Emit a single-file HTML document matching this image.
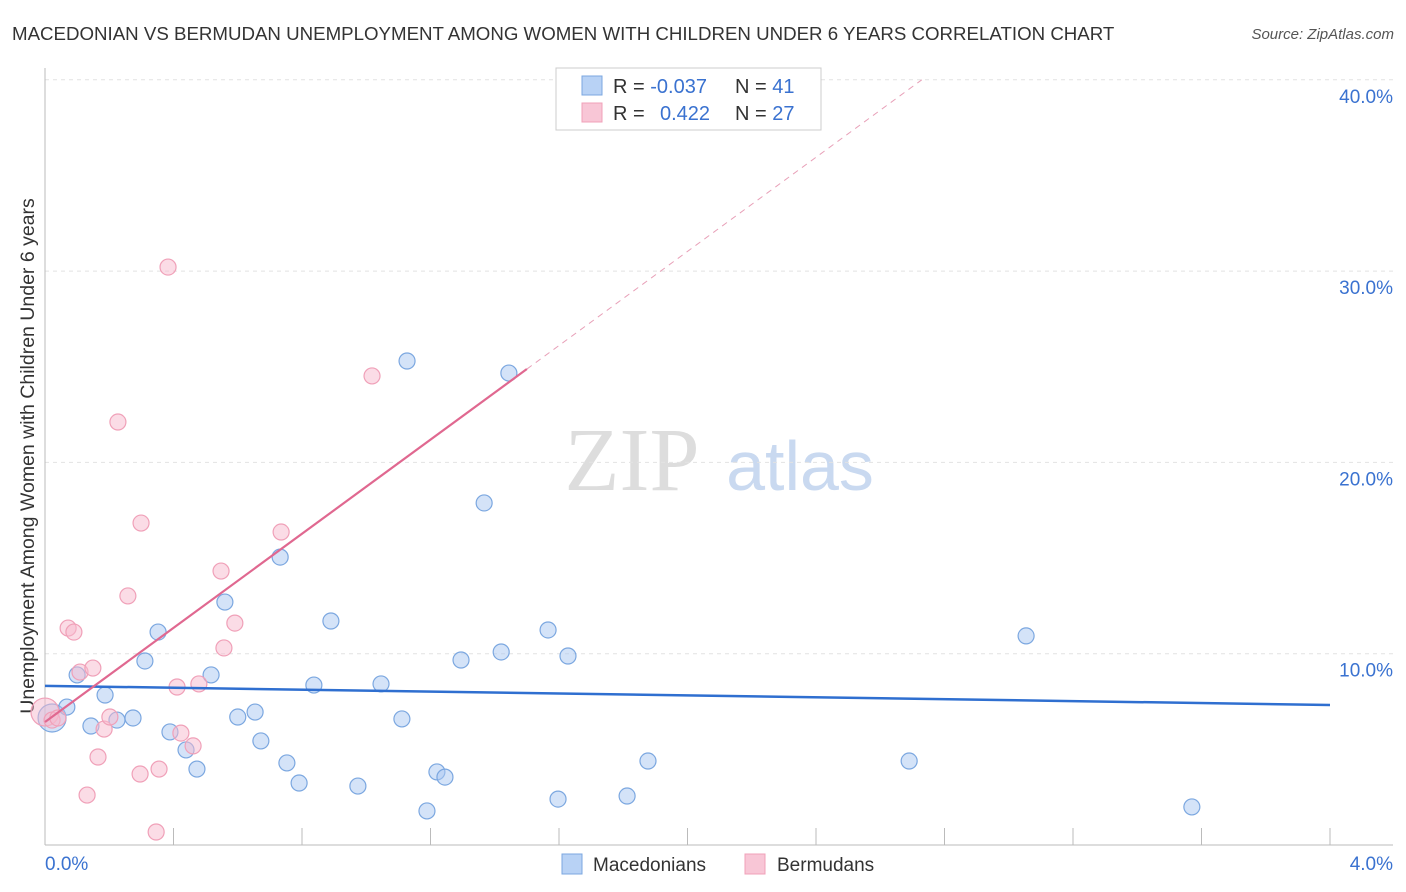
<!DOCTYPE html>
<html><head><meta charset="utf-8"><style>
body{margin:0;background:#fff;font-family:"Liberation Sans",sans-serif;}
svg{display:block}
</style></head><body>
<svg id="chart" width="1406" height="892">
<text x="12" y="40" font-size="18.7" fill="#333">MACEDONIAN VS BERMUDAN UNEMPLOYMENT AMONG WOMEN WITH CHILDREN UNDER 6 YEARS CORRELATION CHART</text>
<text x="1394" y="39" font-size="15" fill="#555" text-anchor="end" font-style="italic">Source: ZipAtlas.com</text>
<text x="34" y="456" font-size="19.5" fill="#333" text-anchor="middle" transform="rotate(-90 34 456)">Unemployment Among Women with Children Under 6 years</text>
<g><text x="632" y="490" font-size="90" fill="#ddd" text-anchor="middle" font-family="Liberation Serif">ZIP</text><text x="800" y="490" font-size="70" fill="#c9d9f0" text-anchor="middle">atlas</text></g>
<g id="grid"></g><g id="marks"></g>
<g>
<rect x="556" y="68" width="265" height="62" fill="#fff" stroke="#ccc"/>
<rect x="582" y="76" width="20" height="19" fill="#b8d2f5" stroke="#7ba7e0"/>
<rect x="582" y="103" width="20" height="19" fill="#f8c6d6" stroke="#f0a0b8"/>
<text x="613" y="93" font-size="20" fill="#333">R = <tspan fill="#3a72d0">-0.037</tspan><tspan x="735">N = </tspan><tspan fill="#3a72d0">41</tspan></text>
<text x="613" y="120" font-size="20" fill="#333">R = <tspan x="660" fill="#3a72d0">0.422</tspan><tspan x="735">N = </tspan><tspan fill="#3a72d0">27</tspan></text>
</g>
<g>
<rect x="562" y="854" width="20" height="20" fill="#b8d2f5" stroke="#7ba7e0"/><text x="593" y="871" font-size="19" fill="#333">Macedonians</text>
<rect x="745" y="854" width="20" height="20" fill="#f8c6d6" stroke="#f0a0b8"/><text x="777" y="871" font-size="19" fill="#333">Bermudans</text>
</g>
</svg>
<script>
const blueX=[0.022,0.068,0.10,0.143,0.187,0.224,0.274,0.311,0.352,0.389,0.439,0.473,0.517,0.560,0.600,0.654,0.672,0.732,0.753,0.791,0.837,0.890,0.974,1.046,1.111,1.127,1.189,1.220,1.245,1.295,1.367,1.420,1.444,1.566,1.597,1.628,1.812,1.877,2.690,3.054,3.570];
const blueY=[6.64,7.21,8.89,6.22,7.84,6.53,6.64,9.62,11.13,5.91,4.97,3.97,8.89,12.70,6.69,6.95,5.44,15.05,4.29,3.24,8.36,11.71,3.08,8.42,6.59,25.30,1.78,3.82,3.55,9.67,17.88,10.09,24.67,11.24,2.40,9.88,2.56,4.39,4.39,10.93,1.99];
const pinkX=[0.0,0.022,0.040,0.072,0.090,0.109,0.131,0.149,0.165,0.184,0.202,0.227,0.258,0.296,0.299,0.346,0.355,0.383,0.411,0.423,0.461,0.479,0.548,0.557,0.591,0.735,1.018];
const pinkY=[6.95,6.53,6.64,11.34,11.13,9.04,2.61,9.25,4.60,6.06,6.69,22.11,13.02,3.71,16.83,0.68,3.97,30.21,8.26,5.85,5.18,8.42,14.32,10.30,11.60,16.36,24.52];
const blueTrend=[8.32,7.32];
const pinkTrend=[6.43,12.3];
const yTicks=[10,20,30,40];
const yTickLabels=["10.0%","20.0%","30.0%","40.0%"];
const xTicks=[0,0.4,0.8,1.2,1.6,2.0,2.4,2.8,3.2,3.6,4.0];
const NS="http://www.w3.org/2000/svg";
const X=v=>45+v*321.25, Y=v=>845-v*19.13;
function mk(p,t,a){const e=document.createElementNS(NS,t);for(const k in a)e.setAttribute(k,a[k]);p.appendChild(e);return e;}
const g=document.getElementById('grid'), m=document.getElementById('marks');
yTicks.forEach((t,i)=>{
 const l=mk(g,'line',{x1:45,x2:1393,y1:Y(t),y2:Y(t),stroke:'#e2e2e2','stroke-dasharray':'4 4'});
 
 
 const tx=mk(g,'text',{x:1393,y:Y(t)+23,'font-size':19,fill:'#3a72d0','text-anchor':'end'});tx.textContent=yTickLabels[i];
 
 
});
mk(g,'line',{x1:45,x2:45,y1:68,y2:845,stroke:'#bbb'});
mk(g,'line',{x1:45,x2:1393,y1:845,y2:845,stroke:'#bbb'});
xTicks.forEach(t=>{const l=mk(g,'line',{x1:X(t),x2:X(t),y1:828,y2:845,stroke:'#bbb'});
 
 });
let a=mk(g,'text',{x:45,y:870,'font-size':19,fill:'#3a72d0'});a.textContent='0.0%';
let b=mk(g,'text',{x:1393,y:870,'font-size':19,fill:'#3a72d0','text-anchor':'end'});b.textContent='4.0%';
function pts(xs,ys,fill,stroke,name){xs.forEach((x,i)=>{const r=(i===0)?14:8;
 const c=mk(m,'circle',{cx:X(x),cy:Y(ys[i]),r:r,fill:fill,stroke:stroke,'stroke-width':1.2});
 
 });}
pts(blueX,blueY,'rgba(170,200,242,0.5)','#7ba7e0','macedonian-point');
pts(pinkX,pinkY,'rgba(247,185,205,0.5)','#f0a0b8','bermudan-point');
const bt=mk(m,'line',{x1:X(0),x2:X(4),y1:Y(blueTrend[0]),y2:Y(blueTrend[1]),stroke:'#2f6fd0','stroke-width':2.5});


const pEnd=1.5, pDash=(40-pinkTrend[0])/pinkTrend[1];
const pt=mk(m,'line',{x1:X(0),x2:X(pEnd),y1:Y(pinkTrend[0]),y2:Y(pinkTrend[0]+pinkTrend[1]*pEnd),stroke:'#e06890','stroke-width':2.2});


const pd=mk(m,'line',{x1:X(pEnd),x2:X(pDash),y1:Y(pinkTrend[0]+pinkTrend[1]*pEnd),y2:Y(40),stroke:'#e8a0b8','stroke-width':1,'stroke-dasharray':'6 5'});


</script>
</body></html>
